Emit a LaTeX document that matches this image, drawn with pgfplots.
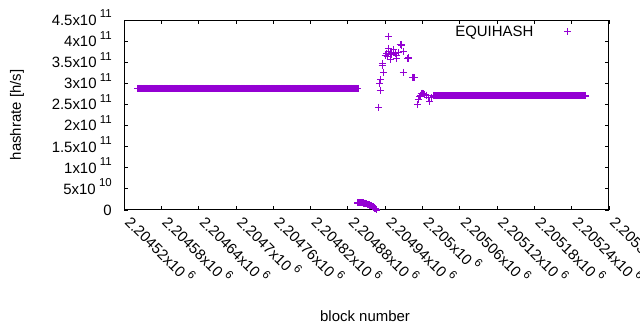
\documentclass[border=0pt]{standalone}
\usepackage{pgfplots}
\pgfplotsset{compat=1.18}
\usepackage{fontspec}
\setmainfont{Liberation Sans}
\definecolor{gpviolet}{RGB}{148,0,211}
\newcommand{\sx}[1]{\hspace{0.22em}\raisebox{0.5em}{\fontsize{11.5}{11.5}\selectfont #1}}
\begin{document}
\begin{tikzpicture}[font=\fontsize{15}{17}\selectfont]
\useasboundingbox (0,0) rectangle (640bp,330bp);
\begin{axis}[
  scale only axis, width=485bp, height=190bp,
  at={(124bp,120bp)}, anchor=south west,
  xmin=2204520, xmax=2205300, ymin=0, ymax=4.5e11,
  scaled ticks=false,
  xtick={2204520,2204580,2204640,2204700,2204760,2204820,2204880,2204940,2205000,2205060,2205120,2205180,2205240,2205300},
  xticklabels={{2.20452x10\sx{6}},{2.20458x10\sx{6}},{2.20464x10\sx{6}},{2.2047x10\sx{6}},{2.20476x10\sx{6}},{2.20482x10\sx{6}},{2.20488x10\sx{6}},{2.20494x10\sx{6}},{2.205x10\sx{6}},{2.20506x10\sx{6}},{2.20512x10\sx{6}},{2.20518x10\sx{6}},{2.20524x10\sx{6}},{2.2053x10\sx{6}}},
  ytick={0,0.5e11,1e11,1.5e11,2e11,2.5e11,3e11,3.5e11,4e11,4.5e11},
  yticklabels={{0},{5x10\sx{10}},{1x10\sx{11}},{1.5x10\sx{11}},{2x10\sx{11}},{2.5x10\sx{11}},{3x10\sx{11}},{3.5x10\sx{11}},{4x10\sx{11}},{4.5x10\sx{11}}},
  ticklabel style={font=\fontsize{15}{17}\selectfont},
  label style={font=\fontsize{15}{17}\selectfont},
  xticklabel style={rotate=-45, anchor=base west, inner sep=0pt},
  xticklabel shift=13bp,
  yticklabel style={anchor=base east, inner sep=0pt, yshift=-5.4bp},
  yticklabel shift=12bp,
  tick align=inside, major tick length=4bp,
  every tick/.style={black, line width=0.8bp},
  axis line style={black, line width=1bp},
  xlabel={block number}, ylabel={hashrate [h/s]},
  xlabel style={at={(axis description cs:0.497,-0.558)}, anchor=center},
  ylabel style={at={(axis description cs:-0.2206,0.5)}, anchor=center},
  legend plot pos=right,
  legend style={font=\fontsize{15}{17}\selectfont, draw=none, fill=none, at={(axis description cs:0.929,0.937)}, anchor=east, /tikz/every odd column/.append style={column sep=29bp}},
]
\addplot[only marks, mark=+, color=gpviolet, mark size=3.5bp, mark options={line width=1.7bp}, forget plot] coordinates {
(2204542,2.88e11)(2204544,2.88e11)(2204546,2.88e11)(2204548,2.88e11)(2204550,2.88e11)(2204552,2.88e11)(2204554,2.88e11)(2204556,2.88e11)(2204558,2.88e11)(2204560,2.88e11)
(2204562,2.88e11)(2204564,2.88e11)(2204566,2.88e11)(2204568,2.88e11)(2204570,2.88e11)(2204572,2.88e11)(2204574,2.88e11)(2204576,2.88e11)(2204578,2.88e11)(2204580,2.88e11)
(2204582,2.88e11)(2204584,2.88e11)(2204586,2.88e11)(2204588,2.88e11)(2204590,2.88e11)(2204592,2.88e11)(2204594,2.88e11)(2204596,2.88e11)(2204598,2.88e11)(2204600,2.88e11)
(2204602,2.88e11)(2204604,2.88e11)(2204606,2.88e11)(2204608,2.88e11)(2204610,2.88e11)(2204612,2.88e11)(2204614,2.88e11)(2204616,2.88e11)(2204618,2.88e11)(2204620,2.88e11)
(2204622,2.88e11)(2204624,2.88e11)(2204626,2.88e11)(2204628,2.88e11)(2204630,2.88e11)(2204632,2.88e11)(2204634,2.88e11)(2204636,2.88e11)(2204638,2.88e11)(2204640,2.88e11)
(2204642,2.88e11)(2204644,2.88e11)(2204646,2.88e11)(2204648,2.88e11)(2204650,2.88e11)(2204652,2.88e11)(2204654,2.88e11)(2204656,2.88e11)(2204658,2.88e11)(2204660,2.88e11)
(2204662,2.88e11)(2204664,2.88e11)(2204666,2.88e11)(2204668,2.88e11)(2204670,2.88e11)(2204672,2.88e11)(2204674,2.88e11)(2204676,2.88e11)(2204678,2.88e11)(2204680,2.88e11)
(2204682,2.88e11)(2204684,2.88e11)(2204686,2.88e11)(2204688,2.88e11)(2204690,2.88e11)(2204692,2.88e11)(2204694,2.88e11)(2204696,2.88e11)(2204698,2.88e11)(2204700,2.88e11)
(2204702,2.88e11)(2204704,2.88e11)(2204706,2.88e11)(2204708,2.88e11)(2204710,2.88e11)(2204712,2.88e11)(2204714,2.88e11)(2204716,2.88e11)(2204718,2.88e11)(2204720,2.88e11)
(2204722,2.88e11)(2204724,2.88e11)(2204726,2.88e11)(2204728,2.88e11)(2204730,2.88e11)(2204732,2.88e11)(2204734,2.88e11)(2204736,2.88e11)(2204738,2.88e11)(2204740,2.88e11)
(2204742,2.88e11)(2204744,2.88e11)(2204746,2.88e11)(2204748,2.88e11)(2204750,2.88e11)(2204752,2.88e11)(2204754,2.88e11)(2204756,2.88e11)(2204758,2.88e11)(2204760,2.88e11)
(2204762,2.88e11)(2204764,2.88e11)(2204766,2.88e11)(2204768,2.88e11)(2204770,2.88e11)(2204772,2.88e11)(2204774,2.88e11)(2204776,2.88e11)(2204778,2.88e11)(2204780,2.88e11)
(2204782,2.88e11)(2204784,2.88e11)(2204786,2.88e11)(2204788,2.88e11)(2204790,2.88e11)(2204792,2.88e11)(2204794,2.88e11)(2204796,2.88e11)(2204798,2.88e11)(2204800,2.88e11)
(2204802,2.88e11)(2204804,2.88e11)(2204806,2.88e11)(2204808,2.88e11)(2204810,2.88e11)(2204812,2.88e11)(2204814,2.88e11)(2204816,2.88e11)(2204818,2.88e11)(2204820,2.88e11)
(2204822,2.88e11)(2204824,2.88e11)(2204826,2.88e11)(2204828,2.88e11)(2204830,2.88e11)(2204832,2.88e11)(2204834,2.88e11)(2204836,2.88e11)(2204838,2.88e11)(2204840,2.88e11)
(2204842,2.88e11)(2204844,2.88e11)(2204846,2.88e11)(2204848,2.88e11)(2204850,2.88e11)(2204852,2.88e11)(2204854,2.88e11)(2204856,2.88e11)(2204858,2.88e11)(2204860,2.88e11)
(2204862,2.88e11)(2204864,2.88e11)(2204866,2.88e11)(2204868,2.88e11)(2204870,2.88e11)(2204872,2.88e11)(2204874,2.88e11)(2204876,2.88e11)(2204878,2.88e11)(2204880,2.88e11)
(2204882,2.88e11)(2204884,2.88e11)(2204886,2.88e11)(2204888,2.88e11)(2204890,2.88e11)(2204892,2.88e11)(2204894,2.88e11)(2204896,2.88e11)
};
\addplot[only marks, mark=+, color=gpviolet, mark size=3.5bp, mark options={line width=1.7bp}, forget plot] coordinates {
(2205018,2.70e11)(2205020,2.70e11)(2205022,2.70e11)(2205024,2.70e11)(2205026,2.70e11)(2205028,2.70e11)(2205030,2.70e11)(2205032,2.70e11)(2205034,2.70e11)(2205036,2.70e11)
(2205038,2.70e11)(2205040,2.70e11)(2205042,2.70e11)(2205044,2.70e11)(2205046,2.70e11)(2205048,2.70e11)(2205050,2.70e11)(2205052,2.70e11)(2205054,2.70e11)(2205056,2.70e11)
(2205058,2.70e11)(2205060,2.70e11)(2205062,2.70e11)(2205064,2.70e11)(2205066,2.70e11)(2205068,2.70e11)(2205070,2.70e11)(2205072,2.70e11)(2205074,2.70e11)(2205076,2.70e11)
(2205078,2.70e11)(2205080,2.70e11)(2205082,2.70e11)(2205084,2.70e11)(2205086,2.70e11)(2205088,2.70e11)(2205090,2.70e11)(2205092,2.70e11)(2205094,2.70e11)(2205096,2.70e11)
(2205098,2.70e11)(2205100,2.70e11)(2205102,2.70e11)(2205104,2.70e11)(2205106,2.70e11)(2205108,2.70e11)(2205110,2.70e11)(2205112,2.70e11)(2205114,2.70e11)(2205116,2.70e11)
(2205118,2.70e11)(2205120,2.70e11)(2205122,2.70e11)(2205124,2.70e11)(2205126,2.70e11)(2205128,2.70e11)(2205130,2.70e11)(2205132,2.70e11)(2205134,2.70e11)(2205136,2.70e11)
(2205138,2.70e11)(2205140,2.70e11)(2205142,2.70e11)(2205144,2.70e11)(2205146,2.70e11)(2205148,2.70e11)(2205150,2.70e11)(2205152,2.70e11)(2205154,2.70e11)(2205156,2.70e11)
(2205158,2.70e11)(2205160,2.70e11)(2205162,2.70e11)(2205164,2.70e11)(2205166,2.70e11)(2205168,2.70e11)(2205170,2.70e11)(2205172,2.70e11)(2205174,2.70e11)(2205176,2.70e11)
(2205178,2.70e11)(2205180,2.70e11)(2205182,2.70e11)(2205184,2.70e11)(2205186,2.70e11)(2205188,2.70e11)(2205190,2.70e11)(2205192,2.70e11)(2205194,2.70e11)(2205196,2.70e11)
(2205198,2.70e11)(2205200,2.70e11)(2205202,2.70e11)(2205204,2.70e11)(2205206,2.70e11)(2205208,2.70e11)(2205210,2.70e11)(2205212,2.70e11)(2205214,2.70e11)(2205216,2.70e11)
(2205218,2.70e11)(2205220,2.70e11)(2205222,2.70e11)(2205224,2.70e11)(2205226,2.70e11)(2205228,2.70e11)(2205230,2.70e11)(2205232,2.70e11)(2205234,2.70e11)(2205236,2.70e11)
(2205238,2.70e11)(2205240,2.70e11)(2205242,2.70e11)(2205244,2.70e11)(2205246,2.70e11)(2205248,2.70e11)(2205250,2.70e11)(2205252,2.70e11)(2205254,2.70e11)(2205256,2.70e11)
(2205258,2.70e11)(2205260,2.70e11)(2205262,2.70e11)
};
\addplot[only marks, mark=+, color=gpviolet, mark size=3.5bp, mark options={line width=1.7bp}, forget plot] coordinates {
(2204896,1.72e10)(2204898,1.71e10)(2204900,1.70e10)(2204902,1.69e10)(2204904,1.67e10)(2204906,1.64e10)(2204908,1.60e10)(2204910,1.52e10)
(2204912,1.42e10)(2204914,1.28e10)(2204916,1.12e10)(2204918,0.95e10)(2204920,0.75e10)(2204922,0.52e10)(2204924,0.28e10)(2204926,0.05e10)
};
\addplot[only marks, mark=+, color=gpviolet, mark size=3.5bp, mark options={line width=1bp}] coordinates {
(2204929,2.43e11)(2204931,3.00e11)(2204932,2.84e11)(2204933,3.08e11)(2204935,3.43e11)(2204936,3.47e11)(2204937,3.25e11)
(2204940,3.67e11)(2204942,3.71e11)(2204943,3.64e11)(2204945,3.75e11)(2204945,4.12e11)(2204946,3.83e11)(2204948,3.71e11)
(2204948,3.57e11)(2204950,3.69e11)(2204951,3.74e11)(2204953,3.79e11)(2204956,3.71e11)(2204959,3.67e11)(2204959,3.59e11)
(2204961,3.73e11)(2204964,3.91e11)(2204965,3.91e11)(2204966,3.92e11)(2204967,3.90e11)(2204969,3.75e11)(2204969,3.26e11)
(2204976,3.59e11)(2204977,3.59e11)(2204978,3.60e11)(2204984,3.14e11)(2204985,3.14e11)(2204986,3.14e11)(2204987,3.13e11)
(2204992,2.49e11)(2204993,2.61e11)(2204995,2.68e11)(2204997,2.72e11)(2204998,2.76e11)(2205000,2.77e11)(2205001,2.75e11)
(2205003,2.74e11)(2205006,2.72e11)(2205010,2.66e11)(2205012,2.58e11)(2205014,2.66e11)
};
\addlegendentry{EQUIHASH}
\end{axis}
\end{tikzpicture}
\end{document}
